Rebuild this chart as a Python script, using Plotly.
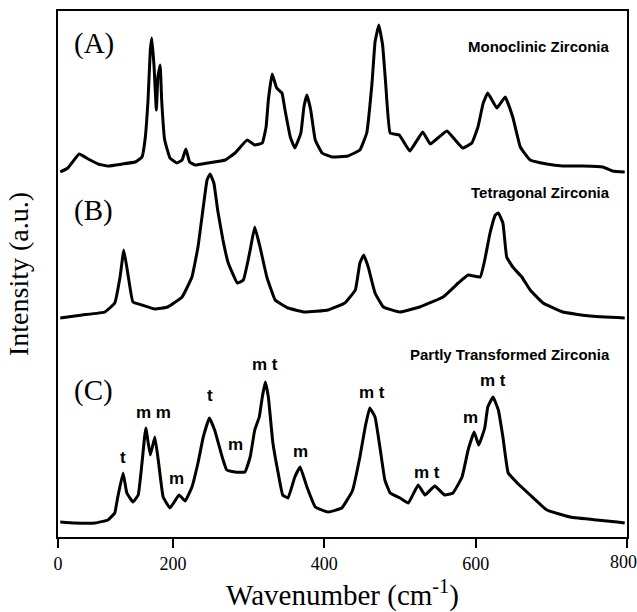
import plotly.graph_objects as go

# ---- Data ----
# (A) Monoclinic zirconia
wn_a = [51, 61, 76, 88, 101, 114, 133, 150, 159, 163, 167, 170, 172, 175, 178, 180, 183, 185,
        189, 196, 205, 212, 217, 222, 229, 246, 269, 282, 298, 308, 318, 323, 326, 331, 337,
        344, 348, 355, 361, 369, 373, 377, 382, 388, 397, 410, 431, 447, 456, 463, 467, 472,
        477, 481, 487, 499, 513, 530, 540, 550, 562, 573, 583, 595, 603, 610, 616, 628, 639,
        649, 659, 672, 694, 715, 742, 768, 781, 797]
int_a = [5, 9, 23, 18, 13, 11, 13, 15, 20, 37, 77, 127, 139, 110, 67, 100, 112, 77,
         37, 19, 14, 17, 28, 15, 12, 14, 17, 24, 37, 32, 34, 50, 77, 103, 89,
         84, 67, 40, 29, 44, 70, 82, 67, 37, 24, 20, 21, 27, 44, 94, 135, 152,
         132, 94, 44, 42, 26, 45, 33, 39, 46, 37, 29, 34, 50, 74, 84, 69, 80,
         60, 30, 17, 13, 11, 11, 10, 6, 5]

# (B) Tetragonal zirconia
wn_b = [51, 80, 110, 123, 130, 135, 141, 147, 159, 176, 193, 212, 225, 233, 240, 245, 249, 254,
        259, 266, 273, 285, 293, 302, 308, 315, 324, 335, 352, 374, 405, 427, 441, 447, 452,
        458, 467, 478, 500, 526, 557, 577, 590, 606, 612, 619, 626, 630, 636, 641, 649, 661,
        672, 689, 715, 751, 797]
int_b = [4, 7, 10, 19, 45, 72, 45, 20, 17, 13, 15, 25, 45, 75, 115, 142, 148, 139,
         112, 82, 59, 39, 42, 72, 95, 75, 45, 22, 14, 10, 12, 19, 32, 59, 67,
         55, 29, 15, 10, 15, 25, 39, 47, 45, 62, 89, 107, 109, 99, 65, 55, 45,
         32, 19, 10, 6, 4]

# (C) Partly transformed zirconia
wn_c = [51, 70, 97, 114, 123, 127, 134, 139, 147, 154, 159, 164, 170, 176, 181, 187, 196, 208,
        216, 225, 233, 240, 248, 255, 265, 271, 282, 295, 302, 308, 314, 318, 322, 326, 332,
        339, 345, 352, 361, 368, 377, 388, 405, 423, 437, 447, 454, 460, 467, 474, 480, 487,
        500, 511, 524, 533, 546, 559, 570, 582, 590, 598, 604, 612, 616, 623, 630, 636, 643,
        655, 672, 694, 725, 760, 787, 797]
int_c = [5, 4, 4, 7, 14, 30, 54, 34, 25, 32, 64, 99, 72, 90, 64, 30, 19, 32,
         26, 40, 64, 90, 109, 97, 70, 57, 55, 55, 70, 97, 110, 130, 145, 130, 84,
         54, 32, 29, 50, 60, 40, 20, 15, 19, 36, 70, 100, 119, 110, 77, 47, 34,
         29, 24, 42, 32, 41, 32, 34, 50, 77, 95, 82, 99, 120, 130, 117, 90, 54,
         44, 32, 17, 10, 7, 5, 4]

spectra = [
    ("(A)", "Monoclinic Zirconia", wn_a, int_a),
    ("(B)", "Tetragonal Zirconia", wn_b, int_b),
    ("(C)", "Partly Transformed Zirconia", wn_c, int_c),
]
tick_values = [48, 200, 400, 600, 800]
tick_labels = ["0", "200", "400", "600", "800"]

# Peak assignment labels for spectrum (C)
peak_text = ["t", "m m", "m", "t", "m", "m t", "m", "m t", "m t", "m", "m t"]
peak_wn = [134, 174, 205, 249, 282, 322, 368, 463, 536, 593, 623]
peak_height = [70, 115, 49, 132, 83, 163, 76, 135, 55, 110, 147]

# ---- Layout positions (vertical stacking offsets) ----
offsets = [360, 215, 10]
panel_letter_y = [494, 327, 147]
name_y = [491, 345, 183]

fig = go.Figure()
for (letter, name, wn, inten), off in zip(spectra, offsets):
    fig.add_trace(go.Scatter(
        x=wn, y=[v + off for v in inten], mode="lines",
        line=dict(color="black", width=3, shape="spline", smoothing=0.3),
        showlegend=False, hoverinfo="skip"))

annotations = []
for (letter, name, wn, inten), ly, ny in zip(spectra, panel_letter_y, name_y):
    annotations.append(dict(x=66, y=ly, xref="x", yref="y", text=letter, showarrow=False,
                            xanchor="left", yanchor="middle",
                            font=dict(family="Liberation Serif", size=29, color="black")))
    annotations.append(dict(x=780, y=ny, xref="x", yref="y", text=name, showarrow=False,
                            xanchor="right", yanchor="middle",
                            font=dict(family="Liberation Sans", size=15, color="black",
                                      weight="bold")))
for t, w, h in zip(peak_text, peak_wn, peak_height):
    annotations.append(dict(x=w, y=h + 10, xref="x", yref="y", text=t, showarrow=False,
                            xanchor="center", yanchor="middle",
                            font=dict(family="Liberation Sans", size=17, color="black",
                                      weight="bold")))

# The last tick label sits at the page edge: draw it right-aligned so it stays whole
axis_ticktext = tick_labels[:-1] + [""]
annotations.append(dict(x=1, y=-0.047, xref="paper", yref="paper", text=tick_labels[-1],
                        showarrow=False, xanchor="right", yanchor="middle",
                        xshift=10, borderpad=0, borderwidth=0,
                        font=dict(family="Liberation Serif", size=18, color="black")))

fig.update_layout(
    width=637, height=612,
    margin=dict(l=58, r=10, t=11, b=75, autoexpand=False),
    paper_bgcolor="white", plot_bgcolor="white",
    annotations=annotations,
    xaxis=dict(range=[48, 800], tickvals=tick_values, ticktext=axis_ticktext,
               automargin=False,
               showgrid=False, zeroline=False, showline=True, linecolor="black",
               linewidth=2, mirror=True, ticks="outside", ticklen=9, tickwidth=1.5,
               tickcolor="black",
               tickfont=dict(family="Liberation Serif", size=18, color="black"),
               title=dict(text="Wavenumber (cm<sup>-1</sup>)", standoff=15,
                          font=dict(family="Liberation Serif", size=29, color="black"))),
    yaxis=dict(range=[0, 526], showticklabels=False, ticks="", showgrid=False,
               automargin=False,
               zeroline=False, showline=True, linecolor="black", linewidth=2, mirror=True,
               title=dict(text="Intensity (a.u.)", standoff=19,
                          font=dict(family="Liberation Serif", size=28, color="black"))),
)

fig.write_html("out.html")
